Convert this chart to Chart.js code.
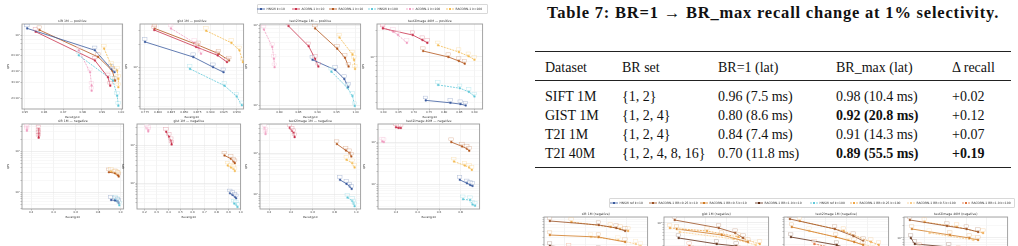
<!DOCTYPE html>
<html>
<head>
<meta charset="utf-8">
<script src="https://cdn.jsdelivr.net/npm/chart.js@4.4.1/dist/chart.umd.min.js"></script>
<style>
  html, body { margin: 0; padding: 0; overflow: hidden; background: #fff; }
  body { width: 1018px; height: 246px; position: relative; font-family: "DejaVu Sans", sans-serif; }
  .panel { position: absolute; }
  .leg { position: absolute; border: 0.6px solid #d8d8d8; border-radius: 1px; background: #fff; }
  .legItem { position: absolute; top: 0; height: 100%; display: flex; align-items: center; font-size: 3px; color: #333; white-space: nowrap; }
  .legItem svg { margin-right: 1.5px; }
  .tcap { position: absolute; left: 535px; width: 476px; text-align: center; font: bold 16.5px "Liberation Serif", serif; letter-spacing: 0.8px; color: #111; line-height: 18px; white-space: nowrap; }
  .rule { position: absolute; left: 535px; width: 476px; background: #222; }
  .cell { position: absolute; font: 14px "Liberation Serif", serif; color: #111; line-height: 19px; white-space: nowrap; }
  .cell.b { font-weight: bold; }
</style>
</head>
<body>
<script>
// ---------- left figure: recall vs QPS, positive / negative filters ----------
const SERIES = ['HNSW k=10', 'ACORN-1 k=10', 'RACORN-1 k=10', 'HNSW k=100', 'ACORN-1 k=100', 'RACORN-1 k=100'];
const COLORS = ['#3a5a9e', '#c9314b', '#b3561c', '#5fc8d9', '#f09cc0', '#f4bb50'];

// each panel: one list of [recall@10, QPS] per series, in SERIES order
const siftPos = [
  [[0.9512, 1186], [0.9864, 681], [0.9949, 426], [0.9966, 391]],
  [[0.9556, 1089], [0.9864, 527], [0.9932, 344], [0.9944, 278]],
  [[0.9576, 1137], [0.9881, 575], [0.9954, 408], [0.9969, 316]],
  [[0.9780, 600], [0.9958, 316], [0.9980, 215], [0.9986, 167]],
  [[0.9780, 681], [0.9839, 391], [0.9847, 278], [0.9847, 245]],
  [[0.9912, 711], [0.9949, 464], [0.9980, 408], [0.9986, 330], [0.9986, 267]]
];
const gistPos = [
  [[0.7751, 2154], [0.8673, 1359], [0.9050, 1000], [0.9248, 858]],
  [[0.7928, 3085], [0.8726, 1848], [0.9136, 1431], [0.9314, 1166]],
  [[0.7935, 3243], [0.8772, 1944], [0.9155, 1506], [0.9353, 1227]],
  [[0.8608, 950], [0.9267, 570], [0.9498, 411], [0.9597, 315]],
  [[0.8245, 3243], [0.8693, 2090], [0.8772, 1792], [0.8819, 1506]],
  [[0.8917, 3020], [0.9399, 2090], [0.9551, 1668], [0.9617, 1166]]
];
const t2i1mPos = [
  [[0.8868, 369], [0.9464, 276], [0.9702, 213], [0.9804, 170]],
  [[0.8238, 971], [0.8766, 544], [0.8936, 380], [0.9021, 304]],
  [[0.8936, 908], [0.9515, 508], [0.9719, 391], [0.9813, 304]],
  [[0.9362, 263], [0.9787, 164], [0.9915, 131], [0.9974, 98]],
  [[0.7591, 882], [0.7813, 533], [0.7855, 380], [0.7872, 298]],
  [[0.9574, 699], [0.9915, 431], [0.9957, 369], [0.9983, 284]]
];
const t2i40mPos = [
  [[0.7392, 32], [0.8206, 30], [0.8538, 29], [0.8709, 28]],
  [[0.5979, 212], [0.6964, 178], [0.7285, 156], [0.7446, 145]],
  [[0.7306, 117], [0.8141, 100], [0.8484, 90], [0.8677, 84]],
  [[0.7799, 48], [0.8516, 44], [0.8816, 40], [0.8998, 35.5]],
  [[0.5979, 218], [0.6321, 194], [0.6482, 178], [0.6771, 145]],
  [[0.7799, 136], [0.8484, 114], [0.8805, 102], [0.8998, 93]]
];
const siftNeg = [
  [[0.9174, 65], [0.9526, 63], [0.9760, 60], [0.9848, 55]],
  [[0.2673, 3477], [0.2673, 2883], [0.2673, 2525], [0.2673, 2168]],
  [[0.8970, 310], [0.9526, 293], [0.9760, 267], [0.9848, 243]],
  [[0.9555, 66], [0.9760, 60], [0.9906, 48]],
  [[0.1620, 3965], [0.1620, 3543], [0.1620, 3222]],
  [[0.9174, 322], [0.9613, 283], [0.9820, 261]]
];
const gistNeg = [
  [[0.912, 54], [0.933, 49], [0.952, 44], [0.963, 40]],
  [[0.381, 2300], [0.405, 1690], [0.421, 1300], [0.426, 1060]],
  [[0.866, 543], [0.920, 443], [0.941, 376], [0.952, 340]],
  [[0.947, 29], [0.963, 27.6], [0.974, 23.5]],
  [[0.219, 2886], [0.232, 2600], [0.232, 2350]],
  [[0.893, 295], [0.920, 261], [0.941, 240], [0.952, 210]]
];
const t2i1mNeg = [
  [[0.851, 224], [0.911, 179], [0.940, 155], [0.958, 135]],
  [[0.389, 4100], [0.410, 3500], [0.425, 3070], [0.434, 2450]],
  [[0.822, 1660], [0.905, 1160], [0.940, 1000], [0.955, 830]],
  [[0.920, 83], [0.964, 69], [0.976, 60], [0.985, 51]],
  [[0.158, 4070], [0.167, 3370], [0.167, 2900]],
  [[0.911, 688], [0.964, 570], [0.985, 447]]
];
const t2i40mNeg = [
  [[0.793, 127], [0.860, 105], [0.890, 96], [0.911, 91]],
  [[0.200, 2236], [0.224, 2160], [0.246, 2160]],
  [[0.714, 1000], [0.815, 788], [0.860, 693], [0.881, 620]],
  [[0.823, 44], [0.890, 42], [0.911, 33], [0.935, 31]],
  [[0.073, 1037], [0.088, 1000]],
  [[0.739, 346], [0.839, 278], [0.881, 249], [0.905, 219]]
];

// tick labels
const siftPosXTicks = ['0.95', '0.96', '0.97', '0.98', '0.99', '1.00'];
const gistPosXTicks = ['0.775', '0.800', '0.825', '0.850', '0.875', '0.900', '0.925', '0.950'];
const t2i1mPosXTicks = ['0.80', '0.85', '0.90', '0.95', '1.00'];
const t2i40mPosXTicks = ['0.60', '0.65', '0.70', '0.75', '0.80', '0.85', '0.90'];
const negXTicks = ['0.2', '0.4', '0.6', '0.8', '1.0'];
const gistNegXTicks = ['0.2', '0.3', '0.4', '0.5', '0.6', '0.7', '0.8', '0.9', '1.0'];
const siftPosYTicks = [[1000, '10³'], [600, '6×10²'], [400, '4×10²'], [300, '3×10²'], [200, '2×10²']];
const baseYTicks = [[10, '10¹'], [100, '10²'], [1000, '10³'], [10000, '10⁴']];

// ---------- bottom-right figure: RACORN-1 BR sweep (negative) ----------
const BR_SERIES = ['HNSW ref k=10', 'RACORN-1 BR=0.25 k=10', 'RACORN-1 BR=0.5 k=10', 'RACORN-1 BR=1.0 k=10',
  'HNSW ref k=100', 'RACORN-1 BR=0.25 k=100', 'RACORN-1 BR=0.5 k=100', 'RACORN-1 BR=1.0 k=100'];
const BR_COLORS = ['#3a5a9e', '#9a4f22', '#d07a22', '#5e2a12', '#5fc8d9', '#f0a545', '#f8cc8a', '#e0703a'];
const siftBr = [
  [[0.60, 54], [0.80, 40], [0.90, 34]],
  [[0.528, 725], [0.764, 583], [0.849, 496], [0.892, 422]],
  [[0.528, 339], [0.764, 304], [0.892, 232]],
  [[0.528, 187], [0.764, 150], [0.892, 115]],
  [[0.70, 45], [0.95, 31]],
  [[0.632, 687], [0.821, 524], [0.868, 470], [0.906, 422]],
  [[0.726, 304], [0.858, 259], [0.943, 209], [0.967, 187]],
  [[0.62, 171], [0.85, 135], [0.93, 108]]
];
const gistBr = [
  [[0.60, 70], [0.80, 52], [0.90, 44]],
  [[0.551, 1176], [0.762, 763], [0.841, 581], [0.879, 444]],
  [[0.561, 722], [0.776, 522], [0.902, 357]],
  [[0.570, 444], [0.752, 321], [0.846, 288]],
  [[0.70, 58], [0.95, 40]],
  [[0.528, 763], [0.706, 649], [0.855, 468], [0.958, 321]],
  [[0.575, 615], [0.832, 421], [0.939, 303]],
  [[0.621, 288], [0.855, 231]]
];
const t2i1mBr = [
  [[0.60, 60], [0.85, 42]],
  [[0.528, 807], [0.743, 470], [0.832, 321], [0.879, 245]],
  [[0.537, 524], [0.748, 304], [0.836, 232], [0.879, 197]],
  [[0.533, 304], [0.752, 197], [0.855, 135]],
  [[0.70, 50], [0.95, 33]],
  [[0.575, 725], [0.785, 422], [0.916, 232], [0.953, 197]],
  [[0.621, 422], [0.808, 259], [0.925, 177]],
  [[0.645, 209], [0.902, 115]]
];
const t2i40mBr = [
  [[0.60, 150], [0.80, 110]],
  [[0.528, 2649], [0.708, 1913], [0.802, 1627], [0.858, 1384]],
  [[0.538, 1627], [0.722, 1175], [0.816, 1000], [0.858, 897]],
  [[0.533, 1000], [0.552, 723], [0.717, 614]],
  [[0.70, 120], [0.90, 90]],
  [[0.599, 2378], [0.755, 1814], [0.882, 1309]],
  [[0.623, 1309], [0.835, 897]],
  [[0.575, 614], [0.764, 520]]
];
const brXTicks = ['0.6', '0.7', '0.8', '0.9'];

// ---------- table ----------
const tableCaption = 'Table 7: BR=1 → BR_max recall change at 1% selectivity.';
const tableHead = ['Dataset', 'BR set', 'BR=1 (lat)', 'BR_max (lat)', 'Δ recall'];
const tableRows = [
  ['SIFT 1M', '{1, 2}', '0.96 (7.5 ms)', '0.98 (10.4 ms)', '+0.02'],
  ['GIST 1M', '{1, 2, 4}', '0.80 (8.6 ms)', '0.92 (20.8 ms)', '+0.12'],
  ['T2I 1M', '{1, 2, 4}', '0.84 (7.4 ms)', '0.91 (14.3 ms)', '+0.07'],
  ['T2I 40M', '{1, 2, 4, 8, 16}', '0.70 (11.8 ms)', '0.89 (55.5 ms)', '+0.19']
];
// [row, column] of bold body cells
const tableBold = ['1,3', '3,3', '3,4'];

// ---------- drawing ----------
const isPow10 = v => Math.abs(Math.log10(v) - Math.round(Math.log10(v))) < 1e-9;
function logTicks(lo, hi) {
  const out = [];
  for (let e = Math.floor(Math.log10(lo)); e <= Math.ceil(Math.log10(hi)); e++) {
    for (let m = 1; m <= 9; m++) {
      const v = m * Math.pow(10, e);
      if (v >= lo && v <= hi) out.push(v);
    }
  }
  return out;
}

const framePlugin = {
  id: 'frame',
  beforeDatasetsDraw(chart, args, opts) {
    const a = chart.chartArea, ctx = chart.ctx;
    ctx.save();
    ctx.strokeStyle = '#9c9c9c';
    ctx.lineWidth = 0.9;
    ctx.strokeRect(a.left, a.top, a.right - a.left, a.bottom - a.top);
    ctx.fillStyle = '#333';
    ctx.font = '3.2px "DejaVu Sans"';
    ctx.textAlign = 'center';
    ctx.textBaseline = 'bottom';
    ctx.fillText(opts.title, (a.left + a.right) / 2, a.top - 0.8);
    ctx.restore();
  },
  afterDatasetsDraw(chart) {
    // small value tags next to every point
    const ctx = chart.ctx, a = chart.chartArea;
    ctx.save();
    ctx.beginPath();
    ctx.rect(a.left, a.top, a.right - a.left, a.bottom - a.top);
    ctx.clip();
    chart.data.datasets.forEach((ds, i) => {
      chart.getDatasetMeta(i).data.forEach(pt => {
        ctx.globalAlpha = 0.4;
        ctx.fillStyle = '#fff';
        ctx.fillRect(pt.x - 2.5, pt.y - 4.2, 4.5, 2.6);
        ctx.strokeStyle = ds.borderColor;
        ctx.lineWidth = 0.5;
        ctx.strokeRect(pt.x - 2.5, pt.y - 4.2, 4.5, 2.6);
      });
    });
    ctx.restore();
  }
};

function panel(p, names, colors) {
  const padL = 15, padT = 6, padB = 10, padR = 2;
  const w = p.box[2] - p.box[0], h = p.box[3] - p.box[1];
  const div = document.createElement('div');
  div.className = 'panel';
  div.style.left = (p.box[0] - padL) + 'px';
  div.style.top = (p.box[1] - padT) + 'px';
  const cv = document.createElement('canvas');
  cv.width = w + padL + padR;
  cv.height = h + padT + padB;
  div.appendChild(cv);
  document.body.appendChild(div);
  const half = names.length / 2;
  const yLabels = p.yt || baseYTicks;
  new Chart(cv, {
    type: 'line',
    data: {
      datasets: p.data.map((pts, i) => ({
        label: names[i],
        data: pts.map(([x, y]) => ({ x, y })),
        borderColor: colors[i],
        backgroundColor: colors[i],
        borderWidth: 0.8,
        borderDash: i >= half ? [2, 1] : [],
        pointRadius: 1.1,
        pointBorderWidth: 0.4,
        pointStyle: 'rect',
        tension: 0
      }))
    },
    options: {
      responsive: false,
      animation: false,
      devicePixelRatio: 1,
      layout: { padding: { top: padT, right: padR, left: 0, bottom: 0 } },
      plugins: { legend: { display: false }, tooltip: { enabled: false }, frame: { title: p.title } },
      scales: {
        x: {
          type: 'linear', min: p.x[0], max: p.x[1],
          afterBuildTicks: s => { s.ticks = p.xt.map(t => ({ value: parseFloat(t) })); },
          afterFit: s => { s.height = padB; },
          ticks: { callback: (v, i) => p.xt[i], font: { size: 2.8, family: 'DejaVu Sans' }, color: '#444', padding: 0.5, maxRotation: 0, autoSkip: false },
          grid: { color: '#ebebeb', lineWidth: 0.6, tickLength: 1.5, tickColor: '#999' },
          border: { display: false },
          title: { display: true, text: 'Recall@10', font: { size: 2.8, family: 'DejaVu Sans' }, color: '#333', padding: 0 }
        },
        y: {
          type: 'logarithmic', min: p.y[0], max: p.y[1],
          afterBuildTicks: s => { s.ticks = logTicks(p.y[0], p.y[1]).map(v => ({ value: v })); },
          afterFit: s => { s.width = padL; },
          ticks: {
            callback: v => { const f = yLabels.find(t => Math.abs(t[0] - v) < 1e-6 * v); return f ? f[1] : ''; },
            font: { size: 2.8, family: 'DejaVu Sans' }, color: '#444', padding: 0.5, autoSkip: false
          },
          grid: { color: c => isPow10(c.tick.value) ? '#e4e4e4' : '#f3f3f3', lineWidth: 0.6, tickLength: 1.5, tickColor: '#999' },
          border: { display: false },
          title: { display: true, text: 'QPS', font: { size: 2.8, family: 'DejaVu Sans' }, color: '#333', padding: 0 }
        }
      }
    },
    plugins: [framePlugin]
  });
}

function legend(names, colors, box, xs) {
  const lg = document.createElement('div');
  lg.className = 'leg';
  lg.style.left = box[0] + 'px';
  lg.style.top = box[1] + 'px';
  lg.style.width = (box[2] - box[0]) + 'px';
  lg.style.height = (box[3] - box[1]) + 'px';
  const half = names.length / 2;
  names.forEach((n, i) => {
    const it = document.createElement('div');
    it.className = 'legItem';
    it.style.left = (xs[i] - 4 - box[0]) + 'px';
    const dash = i >= half ? ' stroke-dasharray="2 1"' : '';
    it.innerHTML = '<svg width="8" height="4"><line x1="0" y1="2" x2="8" y2="2" stroke="' + colors[i] + '" stroke-width="0.8"' + dash +
      '/><rect x="3" y="1" width="2" height="2" fill="' + colors[i] + '"/></svg><span>' + n + '</span>';
    lg.appendChild(it);
  });
  document.body.appendChild(lg);
}

const panels = [
  { title: 'sift 1M — positive', data: siftPos, box: [22, 24, 125, 109], x: [0.9485, 1.0008], xt: siftPosXTicks, y: [154, 1325], yt: siftPosYTicks },
  { title: 'gist 1M — positive', data: gistPos, box: [140, 24, 246, 109], x: [0.7656, 0.963], xt: gistPosXTicks, y: [281, 3707] },
  { title: 'text2image 1M — positive', data: t2i1mPos, box: [260, 24, 363, 109], x: [0.749, 1.0128], xt: t2i1mPosXTicks, y: [90, 1030] },
  { title: 'text2image 40M — positive', data: t2i40mPos, box: [377, 24, 485, 109], x: [0.5786, 0.9266], xt: t2i40mPosXTicks, y: [25.5, 238] },
  { title: 'sift 1M — negative', data: siftNeg, box: [22, 124, 126, 209], x: [0.118, 1.029], xt: negXTicks, y: [39, 4700] },
  { title: 'gist 1M — negative', data: gistNeg, box: [137, 124, 243, 209], x: [0.138, 1.0], xt: gistNegXTicks, y: [20.8, 3684] },
  { title: 'text2image 1M — negative', data: t2i1mNeg, box: [260, 124, 363, 209], x: [0.116, 1.04], xt: negXTicks, y: [43.8, 5100] },
  { title: 'text2image 40M — negative', data: t2i40mNeg, box: [378, 124, 482, 209], x: [0.033, 0.977], xt: negXTicks.slice(0, 4), y: [25.8, 2683] }
];
panels.forEach(p => panel(p, SERIES, COLORS));
legend(SERIES, COLORS, [257, 4, 486, 12], [260, 295, 332, 371, 409, 449]);

const brPanels = [
  { title: 'sift 1M (negative)', data: siftBr, box: [544, 217, 650, 302], x: [0.5, 1.0], xt: brXTicks, y: [9, 900] },
  { title: 'gist 1M (negative)', data: gistBr, box: [664, 217, 771, 302], x: [0.5, 1.0], xt: brXTicks, y: [13.84, 1384] },
  { title: 'text2image 1M (negative)', data: t2i1mBr, box: [784, 217, 891, 302], x: [0.5, 1.0], xt: brXTicks, y: [9, 900] },
  { title: 'text2image 40M (negative)', data: t2i40mBr, box: [904, 217, 1010, 302], x: [0.5, 1.0], xt: brXTicks, y: [31.16, 3116] }
];
brPanels.forEach(p => panel(p, BR_SERIES, BR_COLORS));
legend(BR_SERIES, BR_COLORS, [609, 198, 1013, 206], [613, 652, 703, 758, 813, 853, 910, 965]);

// table
const cap = document.createElement('div');
cap.className = 'tcap';
cap.style.top = '4px';
cap.textContent = tableCaption;
document.body.appendChild(cap);
[[50.5, 1.2], [79.5, 0.7], [166.5, 1.2]].forEach(([y, t]) => {
  const r = document.createElement('div');
  r.className = 'rule';
  r.style.top = y + 'px';
  r.style.height = t + 'px';
  document.body.appendChild(r);
});
const colX = [545, 622, 718, 836, 952];
const rowY = [67, 96, 115, 134, 153];
[tableHead].concat(tableRows).forEach((row, r) => {
  row.forEach((txt, c) => {
    const d = document.createElement('div');
    const bodyRow = r - 1;
    d.className = 'cell' + (r > 0 && tableBold.includes(bodyRow + ',' + c) ? ' b' : '');
    d.style.left = colX[c] + 'px';
    d.style.top = (rowY[r] - 9.5) + 'px';
    d.textContent = txt;
    document.body.appendChild(d);
  });
});
</script>
</body>
</html>
